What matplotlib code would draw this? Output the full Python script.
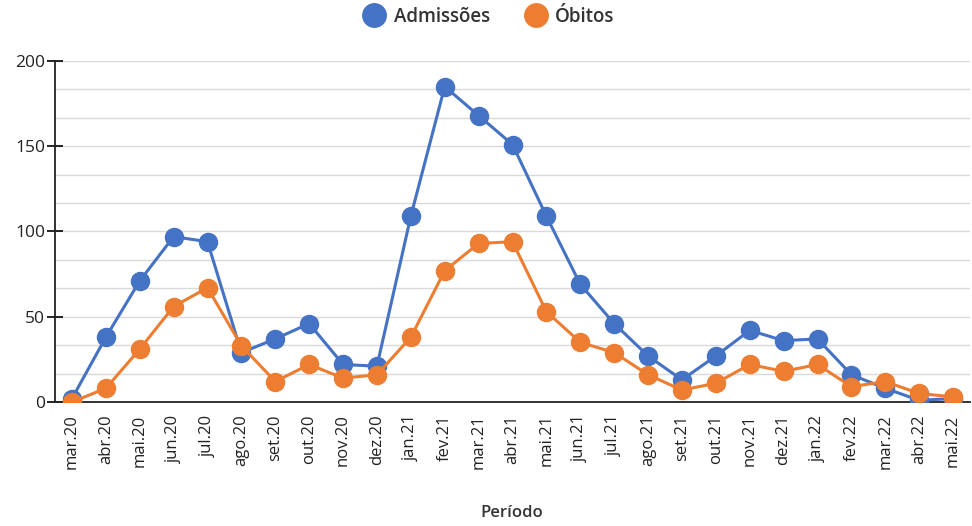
# -*- coding: utf-8 -*-
import numpy as np
from matplotlib import pyplot as plt

periodos = ["mar.20", "abr.20", "mai.20", "jun.20", "jul.20", "ago.20", "set.20",
            "out.20", "nov.20", "dez.20", "jan.21", "fev.21", "mar.21", "abr.21",
            "mai.21", "jun.21", "jul.21", "ago.21", "set.21", "out.21", "nov.21",
            "dez.21", "jan.22", "fev.22", "mar.22", "abr.22", "mai.22"]
admissoes = [2, 38, 71, 97, 94, 29, 37, 46, 22, 21, 109, 185, 168, 151, 109, 69,
             46, 27, 13, 27, 42, 36, 37, 16, 8, 1, 2]
obitos = [0, 8, 31, 56, 67, 33, 12, 22, 14, 16, 38, 77, 93, 94, 53, 35,
          29, 16, 7, 11, 22, 18, 22, 9, 12, 5, 3]

plt.rcParams['font.family'] = ['Open Sans', 'DejaVu Sans']

fig = plt.figure(figsize=(9.72, 5.26), dpi=100)
ax = fig.add_axes([55 / 972, 1 - 402 / 526, 915 / 972, 341 / 526])

x = np.arange(len(periodos))
azul = '#4472C4'
laranja = '#ED7D31'
ax.plot(x, admissoes, color=azul, lw=2.2, marker='o', ms=13, label='Admissões', zorder=3)
ax.plot(x, obitos, color=laranja, lw=2.2, marker='o', ms=13, label='Óbitos', zorder=4)

# grade
for g in np.linspace(0, 200, 13)[1:]:
    ax.axhline(g, color='#d9d9d9', lw=1, zorder=1)

ax.set_xlim(-0.5, len(periodos) - 0.5)
ax.set_ylim(0, 200)
ax.set_yticks([0, 50, 100, 150, 200])
ax.set_xticks(x)
ax.set_xticklabels(periodos, rotation=90, fontsize=12, color='#222222')
ax.tick_params(axis='y', direction='inout', length=12, width=1.2, labelsize=12.5,
               labelcolor='#222222', pad=1)
ax.tick_params(axis='x', length=0, pad=9)

for s in ['top', 'right']:
    ax.spines[s].set_visible(False)
ax.spines['left'].set_linewidth(1.3)
ax.spines['bottom'].set_linewidth(1.3)
ax.spines['left'].set_color('#222222')
ax.spines['bottom'].set_color('#222222')

fig.text(512 / 972, 1 - 513 / 526, 'Período', ha='center', va='center',
         fontsize=12, color='#333333', fontweight='semibold')

leg = fig.legend(loc='center', bbox_to_anchor=(490 / 972, 1 - 17 / 526), ncol=2,
                 frameon=False, handlelength=0.9, columnspacing=2.0, handletextpad=0.6,
                 markerscale=1.3, prop={'weight': 'semibold', 'size': 13.5})
for h in leg.get_lines():
    h.set_linestyle('none')
for t in leg.get_texts():
    t.set_color('#333333')

plt.savefig('out.png', dpi=100)
plt.close('all')
